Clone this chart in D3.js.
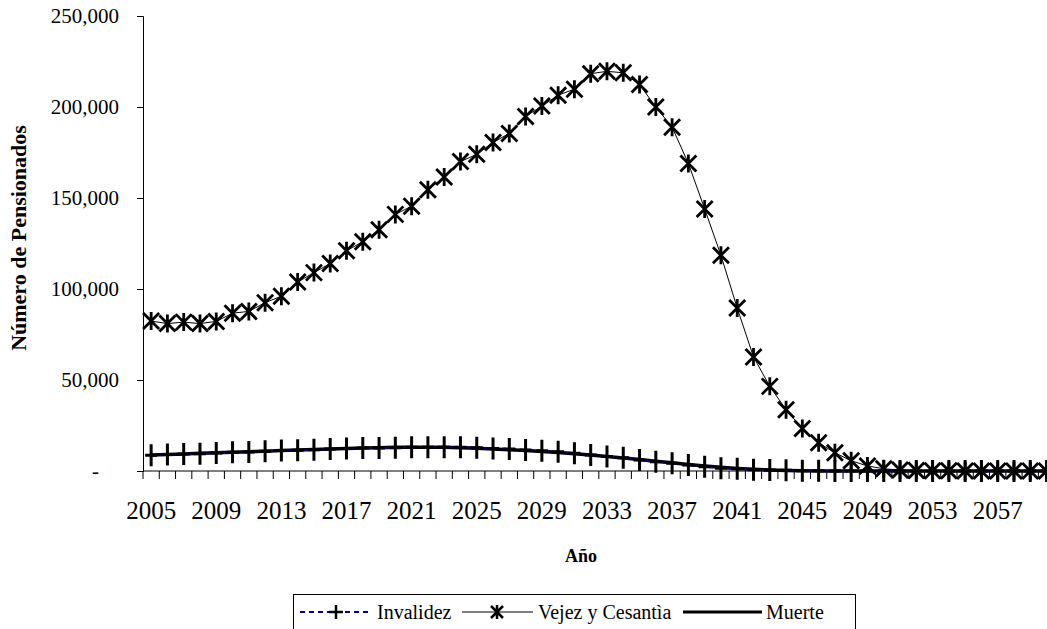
<!DOCTYPE html>
<html>
<head>
<meta charset="utf-8">
<script src="https://cdn.jsdelivr.net/npm/d3@7"></script>
<style>
  html, body { margin: 0; padding: 0; background: #fff; overflow: hidden; }
  svg { display: block; }
  svg text { font-family: "Liberation Serif", "Times New Roman", serif !important; fill: #000; }
</style>
</head>
<body>
<svg id="chart" width="1047" height="629"></svg>
<script>
const years = [2005,2006,2007,2008,2009,2010,2011,2012,2013,2014,2015,2016,2017,2018,2019,2020,2021,2022,2023,2024,2025,2026,2027,2028,2029,2030,2031,2032,2033,2034,2035,2036,2037,2038,2039,2040,2041,2042,2043,2044,2045,2046,2047,2048,2049,2050,2051,2052,2053,2054,2055,2056,2057,2058,2059,2060];
const labelYears = [2005,2009,2013,2017,2021,2025,2029,2033,2037,2041,2045,2049,2053,2057];
const yTicks = [0, 50000, 100000, 150000, 200000, 250000];

const invalidez = [8600,9000,9300,9500,9900,10300,10400,10800,11200,11400,
  11700,12100,12300,12600,12600,12800,13000,13000,13000,13000,
  12800,12400,12100,11500,11100,10600,9700,8800,7900,7300,
  6000,5100,4200,3300,2400,1500,1200,700,500,400,
  200,100,50,30,20,10,0,0,0,0,
  0,0,0,0,0,0];
const vejez = [82400,81000,81800,81000,82200,86700,87700,92500,96000,103800,
  109000,114000,121000,126000,132500,141000,145500,154500,161500,170000,
  174000,180500,185500,194800,200500,206500,209800,218300,219600,218800,
  212300,200000,188900,169000,144000,118500,89500,62700,46500,33700,
  23300,15500,10000,5600,2800,1200,500,250,150,100,
  60,40,30,20,10,10];
const muerte = [8800,9100,9400,9700,10000,10300,10600,10900,11200,11500,
  11800,12100,12400,12600,12800,13000,13100,13100,13000,12800,
  12500,12100,11700,11200,10700,10100,9500,8800,8000,7200,
  6300,5400,4500,3600,2800,2000,1400,900,500,250,
  100,50,0,0,0,0,0,0,0,0,
  0,0,0,0,0,0];

const FONT = "'Liberation Serif', 'Times New Roman', serif";
const svg = d3.select("#chart").attr("font-family", FONT);
const mLeft = 143, mTop = 16, mBottom = 471, step = 16.28;
const x = d3.scaleBand().domain(years).range([mLeft, mLeft + step * years.length]).padding(0);
const y = d3.scaleLinear().domain([0, 250000]).range([mBottom, mTop]);
const cx = d => x(d) + x.bandwidth() / 2;

// Y axis
const yAxis = d3.axisLeft(y).tickValues(yTicks)
  .tickFormat(d => d === 0 ? "-" : d3.format(",")(d))
  .tickSize(6).tickPadding(18);
const gy = svg.append("g").attr("transform", `translate(${mLeft},0)`).call(yAxis);
gy.attr("font-family", FONT);
gy.select(".domain").attr("stroke", "#000").attr("stroke-width", 1);
gy.selectAll(".tick line").attr("stroke", "#000");
gy.selectAll("text").style("font-size", "21px").attr("fill", "#000");
gy.selectAll(".tick").filter(d => d === 0).select("text").attr("dx", -20);

// X axis line and ticks at category boundaries
const gx = svg.append("g");
gx.append("line").attr("x1", mLeft).attr("x2", 1047).attr("y1", mBottom).attr("y2", mBottom)
  .attr("stroke", "#000").attr("stroke-width", 1);
gx.selectAll("line.tk").data(years).enter().append("line").attr("class", "tk")
  .attr("x1", d => x(d)).attr("x2", d => x(d))
  .attr("y1", mBottom).attr("y2", mBottom + 8)
  .attr("stroke", "#000").attr("stroke-width", 1);
const xAxis = d3.axisBottom(x).tickValues(labelYears).tickSize(0).tickPadding(30);
const gxl = svg.append("g").attr("transform", `translate(0,${mBottom})`).call(xAxis);
gxl.attr("font-family", FONT);
gxl.select(".domain").remove();
gxl.selectAll("text").style("font-size", "25px").attr("fill", "#000");

// Axis titles
svg.append("text").attr("x", 581).attr("y", 562).attr("text-anchor", "middle")
  .style("font-size", "18px").style("font-weight", "bold").text("Año");
svg.append("text").attr("transform", "translate(26,238) rotate(-90)").attr("text-anchor", "middle")
  .style("font-size", "22px").style("font-weight", "bold").text("Número de Pensionados");

const line = d3.line().x((d, i) => cx(years[i])).y(d => y(d));
const plot = svg.append("g");

// Muerte thick line
plot.append("path").datum(muerte).attr("d", line).attr("fill", "none")
  .attr("stroke", "#000").attr("stroke-width", 3.5);

// Invalidez dashed navy line + markers
plot.append("path").datum(invalidez).attr("d", line).attr("fill", "none")
  .attr("stroke", "#000080").attr("stroke-width", 2).attr("stroke-dasharray", "5,4");
const plusPath = "M0,-11V11M-6,0H6";
plot.selectAll("path.plus").data(invalidez).enter().append("path").attr("class", "plus")
  .attr("transform", (d, i) => `translate(${cx(years[i])},${y(d)})`)
  .attr("d", plusPath).attr("stroke", "#000").attr("stroke-width", 3).attr("fill", "none");

// Vejez thin line + asterisk markers
plot.append("path").datum(vejez).attr("d", line).attr("fill", "none")
  .attr("stroke", "#000").attr("stroke-width", 1);
const starPath = "M-8,-8L8,8M-8,8L8,-8M0,-9V9";
plot.selectAll("path.star").data(vejez).enter().append("path").attr("class", "star")
  .attr("transform", (d, i) => `translate(${cx(years[i])},${y(d)})`)
  .attr("d", starPath).attr("stroke", "#000").attr("stroke-width", 2.8).attr("fill", "none");

// Legend
const lg = svg.append("g");
lg.append("rect").attr("x", 293.5).attr("y", 594.5).attr("width", 562).attr("height", 45)
  .attr("fill", "#fff").attr("stroke", "#000").attr("stroke-width", 1);
const ly = 612;
lg.append("line").attr("x1", 300).attr("x2", 372).attr("y1", ly).attr("y2", ly)
  .attr("stroke", "#000080").attr("stroke-width", 2).attr("stroke-dasharray", "5,4");
lg.append("path").attr("transform", `translate(336,${ly})`).attr("d", "M0,-7V7M-7,0H7")
  .attr("stroke", "#000").attr("stroke-width", 2.5).attr("fill", "none");
lg.append("text").attr("x", 377).attr("y", ly).attr("dy", "0.35em").style("font-size", "20px").text("Invalidez");
lg.append("line").attr("x1", 462).attr("x2", 533).attr("y1", ly).attr("y2", ly)
  .attr("stroke", "#000").attr("stroke-width", 1);
lg.append("path").attr("transform", `translate(497,${ly})`).attr("d", "M-6,-6L6,6M-6,6L6,-6M0,-7V7")
  .attr("stroke", "#000").attr("stroke-width", 2.5).attr("fill", "none");
lg.append("text").attr("x", 538).attr("y", ly).attr("dy", "0.35em").style("font-size", "20px").text("Vejez y Cesantìa");
lg.append("line").attr("x1", 683).attr("x2", 762).attr("y1", ly).attr("y2", ly)
  .attr("stroke", "#000").attr("stroke-width", 3);
lg.append("text").attr("x", 766).attr("y", ly).attr("dy", "0.35em").style("font-size", "20px").text("Muerte");
</script>
</body>
</html>
